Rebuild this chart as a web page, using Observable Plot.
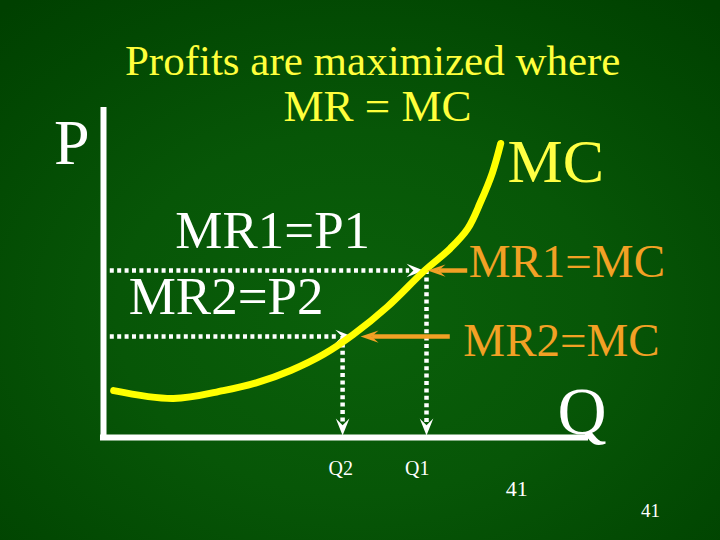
<!DOCTYPE html>
<html>
<head>
<meta charset="utf-8">
<script src="https://cdn.jsdelivr.net/npm/d3@7"></script>
<script src="https://cdn.jsdelivr.net/npm/@observablehq/plot@0.6"></script>
<style>
  html, body { margin: 0; padding: 0; background: #064f06; }
  #chart svg { display: block; }
  #chart svg text { font-family: "Liberation Serif", "Times New Roman", serif; }
</style>
</head>
<body>
<div id="chart"></div>
<script>
// ---- data (Q and P in abstract units, 0..10 on each axis) ----
const quantityLabels = ["Q1", "Q2"];
const quantities = [6.66, 4.93];
const priceLabels = ["MR1=P1", "MR2=P2"];
const prices = [5.06, 3.06];
const equalityLabels = ["MR1=MC", "MR2=MC"];
// where the white MR arrows end on the MC curve
const mrArrowTips = [6.60, 5.13];
// marginal cost curve
const mcQ = [0.21, 1.44, 2.47, 3.18, 3.86, 4.54, 5.15, 5.86, 6.60, 7.15, 7.51, 7.77, 8.02, 8.19];
const mcP = [1.42, 1.18, 1.42, 1.67, 2.03, 2.52, 3.12, 3.97, 5.03, 5.73, 6.33, 7.12, 8.03, 8.91];
const titleLines = ["Profits are maximized where", "MR = MC"];
const pageNumbers = ["41", "41"];

const mc = mcQ.map((q, i) => ({q, p: mcP[i]}));
const levels = prices.map((p, i) => ({
  p, q: quantities[i], tip: mrArrowTips[i],
  label: priceLabels[i], eq: equalityLabels[i], qlabel: quantityLabels[i]
}));

const WHITE = "#ffffff", YELLOW = "#ffff00", LIGHTY = "#ffff44", ORANGE = "#f2a125";
const FONT = "'Liberation Serif', 'Times New Roman', serif";

// notched arrowhead pointing right, tip at the origin
const arrowHead = (ratio, notch) => ({
  draw(ctx, size) {
    const L = 2 * Math.sqrt(size / Math.PI);
    ctx.moveTo(0, 0);
    ctx.lineTo(-L, -ratio * L);
    ctx.lineTo(-notch * L, 0);
    ctx.lineTo(-L, ratio * L);
    ctx.closePath();
  }
});
const whiteHead = arrowHead(0.4, 0.6);
const orangeHead = arrowHead(0.34, 0.62);

const pxX = 48.5, pxY = 33; // approx pixels per unit, used only for small offsets

const plot = Plot.plot({
  width: 720,
  height: 540,
  marginLeft: 103,
  marginRight: 132,
  marginTop: 107,
  marginBottom: 103,
  x: {domain: [0, 10], axis: null},
  y: {domain: [0, 10], axis: null},
  style: {
    background: "radial-gradient(ellipse 75% 75% at 50% 58%, #0a600a 0%, #075607 45%, #024802 80%, #004000 100%)",
    fontFamily: FONT,
    overflow: "visible"
  },
  marks: [
    // axes
    Plot.ruleX([0], {y1: -0.09, y2: 10, stroke: WHITE, strokeWidth: 6}),
    Plot.ruleY([0], {x1: -0.062, x2: 10, stroke: WHITE, strokeWidth: 6}),

    // horizontal dotted price lines
    Plot.ruleY(levels, {y: "p", x1: 0.14, x2: d => d.tip - 14 / pxX, stroke: WHITE, strokeWidth: 4.5, strokeDasharray: "4,3.4"}),
    Plot.dot(levels, {x: "tip", y: "p", symbol: whiteHead, r: 8.5, fill: WHITE, stroke: "none"}),

    // vertical dotted quantity lines
    Plot.ruleX(levels, {x: "q", y1: "p", y2: 15 / pxY, stroke: WHITE, strokeWidth: 4.5, strokeDasharray: "4,3.4"}),
    Plot.dot(levels, {x: "q", y: 2 / pxY, symbol: whiteHead, r: 8.5, rotate: 90, fill: WHITE, stroke: "none"}),

    // MC curve
    Plot.line(mc, {x: "q", y: "p", curve: "catmull-rom", stroke: YELLOW, strokeWidth: 7, strokeLinecap: "round"}),

    // orange arrows from the MR=MC labels
    Plot.ruleY(levels, {y: "p", x1: (d, i) => i === 0 ? d.q + 0.85 : d.q + 2.22, x2: (d, i) => (i === 0 ? d.q + 0.02 : d.q + 0.37) + 12 / pxX, stroke: ORANGE, strokeWidth: 4.5}),
    Plot.dot(levels, {x: (d, i) => i === 0 ? d.q + 0.02 : d.q + 0.37, y: "p", symbol: orangeHead, r: 9, rotate: 180, fill: ORANGE, stroke: "none"}),

    // title
    Plot.text([titleLines[0]], {x: 5.55, y: 10.98, text: d => d, fill: "#ffff3c", fontSize: 43, textAnchor: "middle", lineAnchor: "bottom", fontFamily: FONT}),
    Plot.text([titleLines[1]], {x: 5.65, y: 9.58, text: d => d, fill: "#ffff3c", fontSize: 45, textAnchor: "middle", lineAnchor: "bottom", fontFamily: FONT}),

    // axis names
    Plot.text(["P"], {x: -1.02, y: 8.3, text: d => d, fill: WHITE, fontSize: 64, textAnchor: "start", lineAnchor: "bottom", fontFamily: FONT}),
    Plot.text(["Q"], {x: 9.36, y: 0.12, text: d => d, fill: WHITE, fontSize: 68, textAnchor: "start", lineAnchor: "bottom", fontFamily: FONT}),
    Plot.text(["MC"], {x: 8.33, y: 7.73, text: d => d, fill: LIGHTY, fontSize: 62, textAnchor: "start", lineAnchor: "bottom", fontFamily: FONT}),

    // price labels
    Plot.text(levels, {x: (d, i) => i === 0 ? 1.48 : 0.52, y: d => d.p + 0.67, text: "label", fill: WHITE, fontSize: 53, textAnchor: "start", lineAnchor: "bottom", fontFamily: FONT}),

    // equality labels
    Plot.text(levels, {x: (d, i) => i === 0 ? 7.53 : 7.42, y: d => d.p - 0.2 - (d === levels[1] ? 0.38 : 0), text: "eq", fill: ORANGE, fontSize: 47, textAnchor: "start", lineAnchor: "bottom", fontFamily: FONT}),

    // quantity tick labels
    Plot.text(levels, {x: (d, i) => i === 0 ? d.q - 0.19 : d.q - 0.04, y: -1.15, text: "qlabel", fill: WHITE, fontSize: 20, textAnchor: "middle", lineAnchor: "bottom", fontFamily: FONT}),

    // slide numbers
    Plot.text([pageNumbers[0]], {x: 8.52, y: -1.76, text: d => d, fill: WHITE, fontSize: 22, textAnchor: "middle", lineAnchor: "bottom", fontFamily: FONT}),
    Plot.text([pageNumbers[1]], {x: 11.28, y: -2.42, text: d => d, fill: WHITE, fontSize: 19, textAnchor: "middle", lineAnchor: "bottom", fontFamily: FONT})
  ]
});

document.getElementById("chart").appendChild(plot);
</script>
</body>
</html>
